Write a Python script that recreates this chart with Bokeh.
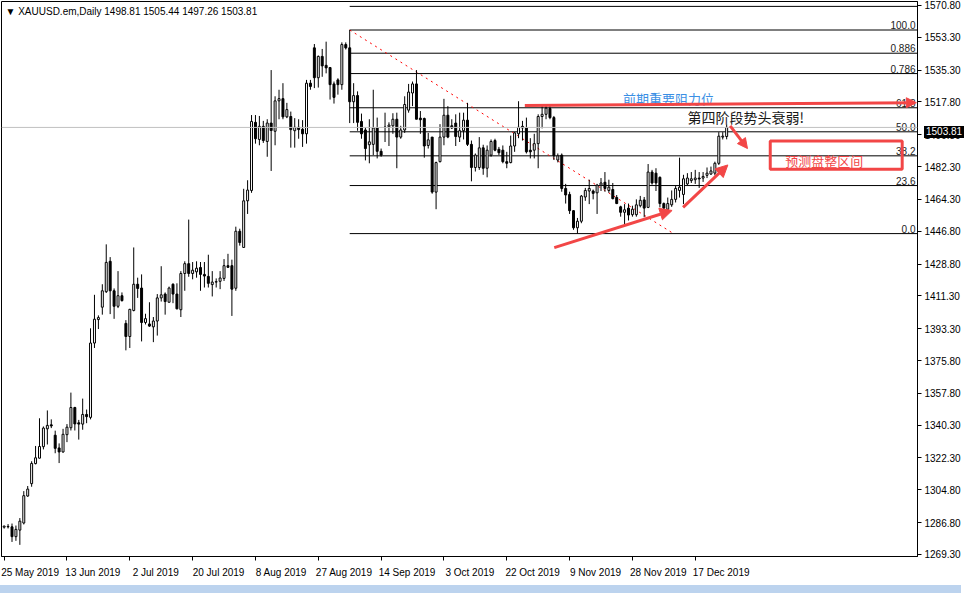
from bokeh.plotting import figure
from bokeh.models import (ColumnDataSource, FixedTicker, PrintfTickFormatter, Range1d,
                          Span, Arrow, NormalHead, Div)
from bokeh.layouts import column
from bokeh.embed import file_html
from bokeh.resources import INLINE
from bokeh.core.properties import value

# ---------------- data (XAUUSD daily) ----------------
opens = [
    1284.3, 1284.5, 1284.5, 1279.1, 1282.7, 1286.6, 1301.4, 1308.2, 1319.2, 1322.2,
    1328.5, 1338.3, 1340.5, 1334.8, 1327.8, 1325.6, 1335.1, 1338.9, 1350.0, 1341.6,
    1340.9, 1346.2, 1344.6, 1385.4, 1398.3, 1405.1, 1413.6, 1430.3, 1414.1, 1405.6,
    1411.4, 1396.2, 1389.0, 1403.3, 1417.7, 1415.6, 1396.7, 1395.9, 1394.3, 1397.5,
    1410.2, 1412.3, 1407.8, 1417.7, 1412.3, 1403.7, 1423.6, 1429.0, 1423.6, 1424.5,
    1426.9, 1423.1, 1422.0, 1417.5, 1418.9, 1419.3, 1420.9, 1427.9, 1427.9, 1415.5,
    1446.8, 1437.9, 1463.5, 1469.2, 1506.6, 1497.2, 1504.4, 1496.1, 1506.2, 1501.7,
    1518.4, 1519.6, 1509.6, 1509.8, 1502.0, 1503.9, 1502.8, 1500.3, 1528.1, 1547.5,
    1531.1, 1542.8, 1537.9, 1536.7, 1527.7, 1529.9, 1527.3, 1549.3, 1547.5, 1517.9,
    1521.3, 1507.1, 1502.4, 1494.3, 1494.5, 1503.5, 1490.7, 1503.9, 1504.2, 1504.7,
    1508.3, 1498.5, 1502.4, 1513.3, 1522.7, 1527.7, 1508.9, 1508.7, 1493.9, 1498.5,
    1468.3, 1485.0, 1498.5, 1510.5, 1504.7, 1506.2, 1498.5, 1502.0, 1507.8, 1494.5,
    1481.8, 1481.8, 1492.6, 1481.4, 1488.6, 1496.6, 1491.8, 1491.3, 1485.0, 1484.5,
    1493.6, 1500.3, 1504.4, 1503.5, 1491.3, 1491.3, 1494.9, 1509.8, 1511.0, 1514.2,
    1509.2, 1485.9, 1488.6, 1470.3, 1467.0, 1458.1, 1448.7, 1452.3, 1465.6, 1468.9,
    1468.9, 1467.9, 1472.1, 1473.7, 1469.2, 1469.7, 1465.3, 1460.2, 1457.2, 1459.5,
    1455.9, 1455.9, 1460.8, 1464.0, 1459.9, 1479.3, 1478.7, 1476.4, 1462.0, 1458.9,
    1461.3, 1464.3, 1469.2, 1467.0, 1472.8, 1474.6, 1475.1, 1476.0, 1476.0, 1477.5,
    1478.2, 1478.7, 1484.1, 1498.5, 1498.81,
]
highs = [
    1285.1, 1286.0, 1286.3, 1285.2, 1289.3, 1304.1, 1306.9, 1320.5, 1328.9, 1344.1,
    1339.6, 1348.4, 1343.5, 1337.3, 1330.3, 1338.3, 1340.9, 1358.2, 1350.4, 1343.2,
    1354.9, 1348.9, 1393.5, 1411.9, 1400.6, 1417.7, 1439.6, 1432.6, 1415.4, 1424.9,
    1413.2, 1398.0, 1404.2, 1437.9, 1421.3, 1423.1, 1401.5, 1407.8, 1399.7, 1412.3,
    1427.6, 1413.2, 1416.4, 1418.2, 1418.2, 1424.9, 1430.3, 1453.2, 1429.9, 1430.3,
    1429.9, 1429.9, 1433.9, 1424.9, 1420.9, 1424.9, 1431.5, 1434.4, 1431.2, 1449.3,
    1448.2, 1470.1, 1474.8, 1510.6, 1510.6, 1510.1, 1507.4, 1508.3, 1535.3, 1520.9,
    1524.5, 1528.1, 1517.3, 1512.5, 1508.9, 1508.3, 1507.8, 1529.9, 1529.9, 1549.6,
    1543.3, 1546.9, 1550.9, 1537.0, 1529.0, 1530.8, 1550.5, 1550.5, 1557.3, 1528.1,
    1523.6, 1511.4, 1504.0, 1508.3, 1524.5, 1509.2, 1492.2, 1511.9, 1506.6, 1511.6,
    1511.9, 1504.7, 1520.9, 1527.7, 1529.0, 1535.3, 1512.8, 1509.2, 1500.8, 1498.5,
    1485.0, 1505.6, 1519.5, 1515.5, 1508.3, 1511.0, 1511.9, 1511.9, 1517.3, 1496.6,
    1489.5, 1498.5, 1494.3, 1493.9, 1497.2, 1497.6, 1493.1, 1493.9, 1490.4, 1499.3,
    1501.2, 1518.2, 1507.4, 1509.2, 1497.9, 1500.3, 1511.0, 1515.5, 1516.4, 1515.5,
    1510.1, 1489.5, 1489.5, 1472.8, 1468.5, 1458.4, 1454.1, 1466.7, 1470.6, 1475.1,
    1469.7, 1472.8, 1476.0, 1479.3, 1475.1, 1473.3, 1466.7, 1460.8, 1461.7, 1462.0,
    1460.8, 1464.3, 1466.2, 1465.6, 1483.7, 1480.5, 1481.4, 1476.9, 1462.6, 1465.3,
    1469.2, 1471.6, 1487.2, 1477.8, 1478.7, 1479.3, 1480.5, 1479.3, 1479.3, 1481.8,
    1482.3, 1485.0, 1501.2, 1501.2, 1505.44,
]
lows = [
    1283.5, 1283.6, 1276.2, 1276.8, 1274.6, 1285.8, 1301.0, 1306.5, 1318.8, 1322.0,
    1327.0, 1329.7, 1338.7, 1324.9, 1319.5, 1325.2, 1331.0, 1337.4, 1337.4, 1332.4,
    1337.8, 1341.4, 1343.5, 1382.7, 1393.1, 1401.0, 1412.9, 1401.3, 1398.7, 1404.6,
    1408.2, 1381.4, 1382.7, 1402.8, 1410.2, 1386.3, 1395.6, 1394.3, 1385.9, 1389.5,
    1408.2, 1401.0, 1407.8, 1407.3, 1403.9, 1399.7, 1414.1, 1421.8, 1420.4, 1421.3,
    1414.1, 1415.9, 1415.9, 1411.0, 1415.9, 1415.0, 1419.5, 1426.6, 1400.3, 1414.1,
    1438.9, 1437.9, 1456.3, 1467.9, 1494.9, 1494.0, 1495.3, 1487.7, 1479.9, 1494.0,
    1508.3, 1508.3, 1508.9, 1492.7, 1492.7, 1497.6, 1493.1, 1494.9, 1524.5, 1525.4,
    1525.7, 1531.6, 1533.5, 1519.1, 1516.9, 1521.8, 1524.5, 1546.6, 1506.2, 1506.2,
    1502.0, 1497.6, 1485.7, 1484.1, 1488.6, 1486.8, 1487.7, 1495.8, 1493.6, 1500.3,
    1481.4, 1497.6, 1500.8, 1511.9, 1515.5, 1508.3, 1500.3, 1487.2, 1492.2, 1467.4,
    1458.9, 1484.6, 1494.0, 1497.9, 1502.9, 1493.6, 1495.8, 1497.2, 1493.6, 1474.2,
    1479.6, 1480.5, 1477.8, 1476.4, 1487.7, 1490.7, 1488.6, 1484.1, 1481.4, 1484.1,
    1490.4, 1497.9, 1496.6, 1489.5, 1486.8, 1486.8, 1481.4, 1503.3, 1508.3, 1508.3,
    1485.9, 1484.6, 1468.5, 1462.0, 1456.3, 1447.6, 1445.5, 1451.2, 1463.5, 1461.7,
    1464.3, 1456.3, 1468.9, 1468.5, 1467.9, 1464.3, 1461.7, 1454.8, 1450.0, 1452.7,
    1454.8, 1454.8, 1459.9, 1454.5, 1459.5, 1472.4, 1468.9, 1459.9, 1458.9, 1458.4,
    1460.2, 1462.6, 1465.3, 1461.7, 1472.1, 1473.3, 1472.8, 1470.6, 1473.9, 1476.0,
    1477.8, 1477.5, 1483.2, 1497.2, 1497.26,
]
closes = [
    1284.9, 1284.7, 1279.1, 1283.1, 1287.6, 1301.6, 1305.2, 1319.3, 1322.4, 1328.6,
    1338.7, 1340.2, 1339.9, 1327.6, 1325.6, 1335.3, 1339.2, 1350.0, 1341.0, 1340.9,
    1346.2, 1345.0, 1385.4, 1398.5, 1399.4, 1414.1, 1429.7, 1414.1, 1405.6, 1411.4,
    1408.7, 1389.0, 1403.9, 1417.7, 1415.4, 1396.7, 1398.8, 1394.7, 1397.5, 1410.2,
    1411.9, 1408.2, 1415.6, 1412.3, 1404.2, 1423.6, 1429.0, 1423.6, 1425.4, 1426.5,
    1423.1, 1422.2, 1418.2, 1418.9, 1419.1, 1421.1, 1427.9, 1427.0, 1415.0, 1446.8,
    1440.6, 1463.5, 1469.4, 1507.1, 1497.6, 1504.4, 1496.6, 1506.2, 1502.1, 1518.4,
    1519.6, 1509.6, 1513.6, 1502.6, 1503.9, 1502.6, 1500.3, 1528.1, 1526.3, 1531.1,
    1542.8, 1537.6, 1536.5, 1527.3, 1520.3, 1527.3, 1549.3, 1547.5, 1517.9, 1521.3,
    1506.6, 1500.3, 1492.2, 1495.9, 1503.5, 1490.7, 1488.6, 1504.0, 1505.1, 1508.3,
    1498.5, 1502.4, 1516.4, 1523.2, 1527.7, 1508.3, 1508.0, 1493.6, 1497.0, 1468.3,
    1484.5, 1498.5, 1510.5, 1498.5, 1503.5, 1498.8, 1502.0, 1507.8, 1494.5, 1481.8,
    1488.6, 1492.6, 1481.4, 1491.3, 1496.1, 1491.3, 1489.9, 1485.0, 1484.1, 1493.6,
    1500.8, 1503.9, 1503.5, 1490.4, 1490.4, 1494.9, 1509.8, 1511.0, 1514.4, 1509.2,
    1488.2, 1488.2, 1470.3, 1466.7, 1458.1, 1448.7, 1452.3, 1466.1, 1469.2, 1470.3,
    1467.6, 1472.1, 1473.3, 1470.3, 1471.0, 1464.7, 1462.0, 1457.2, 1458.6, 1455.7,
    1458.9, 1461.3, 1463.8, 1459.5, 1479.3, 1473.3, 1473.3, 1462.0, 1459.5, 1462.0,
    1464.3, 1470.3, 1471.0, 1475.6, 1476.0, 1475.6, 1476.0, 1475.5, 1476.9, 1478.7,
    1479.9, 1484.1, 1499.0, 1499.0, 1503.81,
]

date_tick_bars = [0, 16, 32, 48, 64, 80, 96, 112, 128, 144, 160, 176]
date_tick_labels = ["25 May 2019", "13 Jun 2019", "2 Jul 2019", "20 Jul 2019",
                    "8 Aug 2019", "27 Aug 2019", "14 Sep 2019", "3 Oct 2019",
                    "22 Oct 2019", "9 Nov 2019", "28 Nov 2019", "17 Dec 2019"]
price_ticks = [1269.3, 1286.8, 1304.8, 1322.3, 1340.3, 1357.8, 1375.8, 1393.3, 1411.3,
               1428.8, 1446.8, 1464.3, 1482.3, 1499.8, 1517.8, 1535.3, 1553.3, 1570.8]

title_text = "\u25BC XAUUSD.em,Daily  1498.81 1505.44 1497.26 1503.81"

# Fibonacci retracement (high bar 88 -> low bar 146)
fib_start_bar = 88
fib_low_bar = 146
fib_ratios = [0.0, 0.236, 0.382, 0.5, 0.618, 0.786, 0.886, 1.0]
fib_texts = ["0.0", "23.6", "38.2", "50.0", "61.8", "0.786", "0.886", "100.0"]
fib_extra_ratio = 1.116   # level whose label is cut off at the top edge

# hand-drawn annotations (bar index, price)
trend_x = [88, 170.6]
trend_y = [1557.3, 1445.3]
resist_arrow = (132.6, 1515.9, 232.3, 1517.4)
weak_arrow = (184.9, 1504.7, 189.3, 1492.2)
up_arrow1 = (140.1, 1437.8, 170.1, 1458.2)
up_arrow2 = (172.9, 1459.9, 184.3, 1483.2)
range_box = dict(left=195.1, right=228.7, top=1496.4, bottom=1480.9)
txt_resist = ("前期重要阻力位", 157.6, 1519.6)
txt_weak = ("第四阶段势头衰弱!", 174.0, 1509.6)
txt_range = ("预测盘整区间", 198.9, 1485.5)

# ---------------- figure ----------------
X0, X1 = -0.675, 232.6
Y0, Y1 = 1268.2, 1572.95
W, H = 964, 580
BORDER_L, BORDER_T, BORDER_R, BORDER_B = 1, 1, 47, 22
RED = "#f24646"
FONT = "Liberation Sans"
LABEL_SHIFT = 6.6   # bars: MT4 date labels start at their tick

p = figure(width=W, height=H, x_range=Range1d(X0, X1), y_range=Range1d(Y0, Y1),
           output_backend="svg", toolbar_location=None, y_axis_location="right",
           min_border_left=BORDER_L, min_border_top=BORDER_T,
           min_border_right=BORDER_R, min_border_bottom=BORDER_B)
p.outline_line_color = "black"
p.outline_line_width = 1
p.grid.visible = False
p.background_fill_color = "white"
p.border_fill_color = "white"

for ax in (p.xaxis[0], p.yaxis[0]):
    ax.axis_line_color = "black"
    ax.major_tick_line_color = "black"
    ax.major_tick_out = 4
    ax.major_tick_in = 0
    ax.minor_tick_out = 0
    ax.minor_tick_in = 0
    ax.major_label_text_font = FONT
    ax.major_label_text_font_size = "10px"
    ax.major_label_text_color = "black"

p.yaxis.ticker = FixedTicker(ticks=price_ticks)
p.yaxis.formatter = PrintfTickFormatter(format="%.2f")
p.yaxis.major_label_standoff = 3

# x axis: visible tick marks are the minor ticks at the dates; the (hidden) major
# ticks sit half a label further right, so every centred label starts at its tick
label_pos = [b + LABEL_SHIFT for b in date_tick_bars]
xax = p.xaxis[0]
xax.ticker = FixedTicker(ticks=label_pos, minor_ticks=date_tick_bars)
xax.major_label_overrides = {x: t for x, t in zip(label_pos, date_tick_labels)}
xax.major_tick_line_color = None
xax.major_tick_out = 0
xax.minor_tick_line_color = "black"
xax.minor_tick_out = 4
xax.minor_tick_in = 0
xax.major_label_standoff = 6

# current price line
p.add_layout(Span(location=closes[-1], dimension="width", line_color="#c0c0c0", line_width=1))

# fibonacci levels
fib_high = highs[fib_start_bar]
fib_low = lows[fib_low_bar]
levels = [fib_low + r * (fib_high - fib_low) for r in fib_ratios]
all_levels = levels + [fib_low + fib_extra_ratio * (fib_high - fib_low)]
p.segment(x0=[fib_start_bar] * len(all_levels), y0=all_levels,
          x1=[X1 + 5] * len(all_levels), y1=all_levels, line_color="black", line_width=1)
p.text(x=[X1] * len(levels), y=levels, text=fib_texts, x_offset=-2, y_offset=-1,
       text_align="right", text_baseline="bottom", text_font=value(FONT),
       text_font_size="10px", text_color="#222222")

# trend line
p.line(trend_x, trend_y, line_color="red", line_width=1, line_dash="2 4")

# candles
idx = list(range(len(opens)))
src = ColumnDataSource(dict(
    x=idx, h=highs, l=lows,
    top=[max(o, c) for o, c in zip(opens, closes)],
    bot=[min(o, c) for o, c in zip(opens, closes)],
    fill=["white" if c >= o else "black" for o, c in zip(opens, closes)],
))
p.segment(x0="x", y0="h", x1="x", y1="l", source=src, line_color="black", line_width=1)
p.vbar(x="x", top="top", bottom="bot", width=0.5, fill_color="fill", line_color="black",
       line_width=1, source=src)

# title
p.text(x=[X0], y=[Y1], text=[title_text], x_offset=4, y_offset=4, text_baseline="top",
       text_font=value(FONT), text_font_size="10px", text_color="black")

# annotations
def arrow(a, lw=3, size=11):
    p.add_layout(Arrow(x_start=a[0], y_start=a[1], x_end=a[2], y_end=a[3],
                       line_color=RED, line_width=lw,
                       end=NormalHead(size=size, fill_color=RED, line_color=RED)))

arrow(resist_arrow, lw=3, size=10)
arrow(weak_arrow, lw=3, size=10)
arrow(up_arrow1, lw=3, size=12)
arrow(up_arrow2, lw=3, size=12)

p.quad(left=[range_box["left"]], right=[range_box["right"]], top=[range_box["top"]],
       bottom=[range_box["bottom"]], fill_alpha=0, line_color=RED, line_width=3)

cjk = value("Noto Sans CJK SC")
p.text(x=[txt_resist[1]], y=[txt_resist[2]], text=[txt_resist[0]], text_baseline="middle",
       text_font=cjk, text_font_size="13px", text_color="#3b8fe4")
p.text(x=[txt_weak[1]], y=[txt_weak[2]], text=[txt_weak[0]], text_baseline="middle",
       text_font=cjk, text_font_size="14px", text_color="#1a1a1a")
p.text(x=[txt_range[1]], y=[txt_range[2]], text=[txt_range[0]], text_baseline="middle",
       text_font=cjk, text_font_size="13px", text_color=RED)

# current-price tag on the price axis: a small HTML box laid over the axis,
# its vertical position derived from the same y range as the plot
frame_h = H - BORDER_T - BORDER_B
tag_center = BORDER_T + (Y1 - closes[-1]) / (Y1 - Y0) * frame_h
tag = Div(text=f"{closes[-1]:.2f}",
          styles={"position": "absolute", "left": f"{W - BORDER_R + 2}px",
                  "top": f"{tag_center - 6:.0f}px", "height": "12px",
                  "line-height": "12px", "padding": "0 2px", "background-color": "black",
                  "color": "white", "font-family": FONT, "font-size": "10px",
                  "z-index": "10"})

# light-blue terminal strip along the bottom edge of the window
strip = Div(text="", styles={"position": "absolute", "left": "-8px", "top": f"{H}px",
                             "width": "980px", "height": "8px",
                             "background-color": "#bcd3ee", "z-index": "5"})

open("out.html", "w").write(file_html(column(p, tag, strip), INLINE))
